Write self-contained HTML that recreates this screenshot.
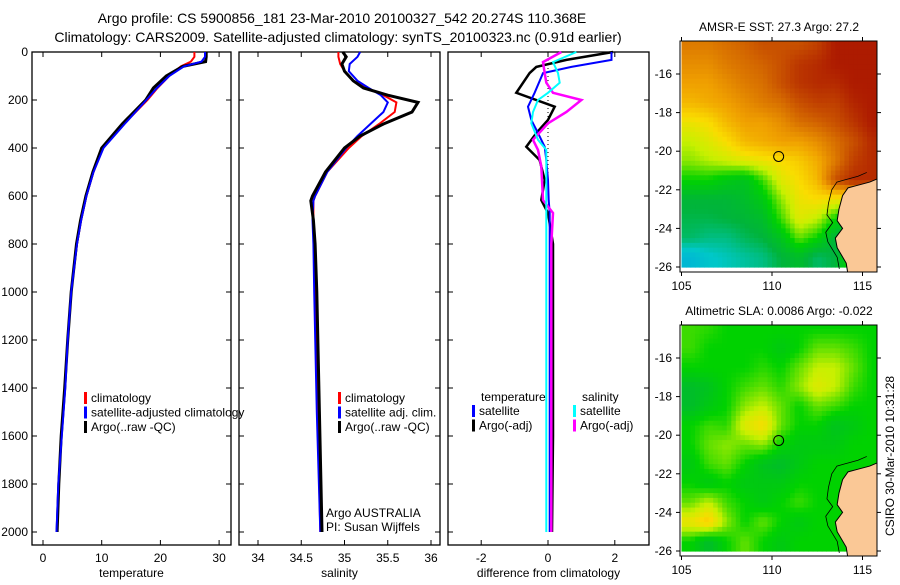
<!DOCTYPE html>
<html><head><meta charset="utf-8"><style>
body{margin:0;background:#fff}
svg{font-family:"Liberation Sans",sans-serif}
</style></head><body>
<svg id="fig" width="900" height="580" viewBox="0 0 900 580" xmlns="http://www.w3.org/2000/svg">
<text x="342" y="23" font-size="14" text-anchor="middle">Argo profile: CS 5900856_181 23-Mar-2010 20100327_542 20.274S 110.368E</text>
<text x="338" y="42" font-size="14" text-anchor="middle">Climatology: CARS2009. Satellite-adjusted climatology: synTS_20100323.nc (0.91d earlier)</text>
<g id="g"></g>
</svg>
<script>
// ---- data ----
const tDepth=[0,20,40,60,100,150,200,300,400,500,600,700,800,1000,1200,1400,1600,1800,2000];
const tClim=[25.8,25.8,25.2,23.5,21.5,19.5,17.8,13.8,10.2,8.6,7.4,6.5,5.8,4.8,4.2,3.7,3.1,2.7,2.4];
const tSat=[27.6,27.6,27.0,24.0,21.5,19.4,17.6,13.9,10.3,8.6,7.4,6.5,5.8,4.8,4.2,3.8,3.2,2.6,2.3];
const tArgo=[27.8,27.8,27.7,23.8,21.0,18.8,17.5,13.5,10.0,8.5,7.3,6.4,5.7,4.8,4.2,3.7,3.1,2.7,2.4];
const sDepth=[0,20,50,80,120,150,180,210,250,300,350,400,500,600,620,700,800,1000,1500,2000];
const sClim=[34.93,34.93,34.95,35.0,35.1,35.25,35.45,35.6,35.58,35.4,35.2,35.05,34.8,34.66,34.64,34.64,34.65,34.66,34.69,34.72];
const sSat=[35.18,35.15,35.06,35.05,35.15,35.28,35.42,35.5,35.45,35.3,35.15,35.02,34.8,34.66,34.64,34.63,34.64,34.65,34.68,34.72];
const sArgo=[34.98,35.02,34.97,35.0,35.1,35.22,35.5,35.85,35.78,35.45,35.18,35.0,34.78,34.63,34.61,34.64,34.66,34.68,34.71,34.74];
const dTDepth=[0,33,62,88,170,228,283,338,395,450,533,617,671,800,1200,1600,2000];
const dTArgo=[1.95,0.55,-0.35,-0.55,-0.95,0.2,0,-0.35,-0.65,-0.25,-0.1,-0.2,0,0.15,0.15,0.15,0.12];
const dTSat=[1.9,1.9,0.7,-0.15,-0.4,-0.6,-0.5,-0.3,-0.1,-0.05,0,0.02,0.05,0.05,0.05,0.05,0.05];
const dSDepth=[0,42,88,128,170,200,250,297,366,408,477,617,671,800,1200,1600,2000];
const dSSat=[0.85,0.15,0.3,0.35,0.0,-0.3,-0.45,-0.5,-0.3,-0.05,-0.05,-0.05,-0.05,-0.05,-0.05,-0.05,-0.05];
const dSArgo=[0.4,-0.15,-0.1,-0.05,0.15,1.0,0.55,0.0,-0.45,-0.3,-0.2,-0.15,0.15,0.1,0.1,0.1,0.1];
const mapLons=[105.5,106.5,107.5,108.5,109.5,110.5,111.5,112.5,113.5,114.5,115.5];
const mapLats=[-14.5,-15.5,-16.5,-17.5,-18.5,-19.5,-20.5,-21.5,-22.5,-23.5,-24.5,-25.5];
const sstGrid=[
[.78,.78,.8,.82,.85,.85,.85,.88,.95,.95,.95],
[.75,.75,.78,.8,.82,.85,.9,.92,.95,.95,.95],
[.72,.72,.75,.78,.8,.85,.9,.92,.92,.95,.95],
[.68,.7,.72,.75,.78,.8,.85,.88,.88,.93,.95],
[.6,.62,.68,.72,.72,.75,.8,.82,.85,.9,.95],
[.55,.58,.62,.68,.7,.72,.72,.75,.8,.85,.92],
[.52,.54,.56,.58,.6,.62,.65,.7,.78,.88,.92],
[.45,.45,.42,.4,.48,.58,.62,.68,.85,.92,.92],
[.36,.36,.36,.38,.42,.52,.6,.62,.6,.6,.6],
[.34,.34,.35,.36,.38,.48,.58,.55,.45,.4,.4],
[.32,.3,.3,.33,.35,.4,.5,.45,.35,.35,.35],
[.2,.24,.26,.28,.3,.35,.38,.32,.35,.5,.5]];
const slaGrid=[
[.48,.47,.45,.45,.45,.45,.45,.45,.45,.45,.45],
[.48,.45,.45,.45,.45,.42,.45,.5,.5,.48,.45],
[.45,.45,.45,.45,.47,.45,.5,.55,.55,.5,.45],
[.38,.4,.45,.48,.5,.47,.52,.58,.55,.48,.45],
[.38,.42,.45,.52,.55,.5,.45,.5,.48,.45,.45],
[.45,.48,.47,.58,.62,.5,.45,.45,.4,.42,.45],
[.45,.5,.52,.5,.52,.45,.42,.42,.42,.45,.45],
[.42,.48,.5,.45,.4,.38,.42,.45,.45,.45,.45],
[.45,.42,.45,.42,.42,.42,.45,.45,.45,.45,.45],
[.5,.55,.48,.45,.42,.45,.48,.45,.45,.45,.45],
[.6,.65,.52,.45,.5,.45,.42,.45,.45,.45,.45],
[.45,.38,.45,.5,.45,.42,.45,.45,.45,.45,.45]];
const coastLon=[115.9,115.4,114.6,114.2,113.9,113.7,113.6,113.9,113.5,113.6,114.1,114.2,115.9];
const coastLat=[-21.4,-21.6,-21.8,-21.9,-22.3,-23.0,-23.6,-24.0,-24.5,-25.0,-25.8,-26.4,-26.4];
const argoLon=110.368, argoLat=-20.274;
// ---- drawing ----
const NS="http://www.w3.org/2000/svg", G=document.getElementById('g');
function mk(t,a,p){const e=document.createElementNS(NS,t);for(const k in a)e.setAttribute(k,a[k]);(p||G).appendChild(e);return e;}
function tx(x,y,s,a,sz){const e=mk('text',{x:x,y:y,'font-size':sz||12,'text-anchor':a||'middle'});e.textContent=s;return e;}
const Y0=52,YB=545,py=d=>Y0+d*0.24;
function panel(name,x0,x1,xs,xticks,xlabs,label,showY){
  const b=mk('rect',{x:x0,y:Y0,width:x1-x0,height:YB-Y0,fill:'none',stroke:'#000','stroke-width':1.3});
  
  xticks.forEach((v,i)=>{const X=xs(v);mk('line',{x1:X,x2:X,y1:YB,y2:YB-5,stroke:'#000'});mk('line',{x1:X,x2:X,y1:Y0,y2:Y0+5,stroke:'#000'});
    const t=tx(X,562,xlabs[i]);});
  for(let d=0;d<=2000;d+=200){const Y=py(d);mk('line',{x1:x0,x2:x0+5,y1:Y,y2:Y,stroke:'#000'});mk('line',{x1:x1,x2:x1-5,y1:Y,y2:Y,stroke:'#000'});
    if(showY){const t=tx(x0-4,Y+4,String(d),'end');}}
  const l=tx((x0+x1)/2,577,label);
}
function line(name,xs,ds,vs,col,w,dash){
  const pts=ds.map((d,i)=>xs(vs[i]).toFixed(1)+','+py(d).toFixed(1)).join(' ');
  const e=mk('polyline',{points:pts,fill:'none',stroke:col,'stroke-width':w});
  if(dash)e.setAttribute('stroke-dasharray',dash);
  
}
function legend(name,x,y,items){items.forEach((it,i)=>{const Y=y+i*14.5;
  const m=mk('rect',{x:x,y:Y-10,width:3,height:12,fill:it[1]});
  const t=tx(x+7,Y,it[0],'start');});}
// panel 1 temperature
const xT=v=>43+v*5.87;
panel('temperature-panel',32,231,xT,[0,10,20,30],['0','10','20','30'],'temperature',true);
line('temp-climatology',xT,tDepth,tClim,'#f00',2);
line('temp-argo',xT,tDepth,tArgo,'#000',3);
line('temp-satellite-adjusted',xT,tDepth,tSat,'#00f',2);
legend('temp-legend',84,402,[['climatology','#f00'],['satellite-adjusted climatology','#00f'],['Argo(..raw -QC)','#000']]);
// panel 2 salinity
const xS=v=>258+(v-34)*86.5;
panel('salinity-panel',239,440,xS,[34,34.5,35,35.5,36],['34','34.5','35','35.5','36'],'salinity',false);
line('sal-climatology',xS,sDepth,sClim,'#f00',2);
line('sal-satellite-adj',xS,sDepth,sSat,'#00f',2);
line('sal-argo',xS,sDepth,sArgo,'#000',3);
legend('sal-legend',338,402,[['climatology','#f00'],['satellite adj. clim.','#00f'],['Argo(..raw -QC)','#000']]);
let t1=tx(326,517,'Argo AUSTRALIA','start');
let t2=tx(326,531,'PI: Susan Wijffels','start');
// panel 3 differences
const xD=v=>548+v*33.4;
panel('difference-panel',448,649,xD,[-2,0,2],['-2','0','2'],'difference from climatology',false);
mk('line',{x1:xD(0),x2:xD(0),y1:Y0,y2:py(600),stroke:'#000','stroke-dasharray':'1,3'});
line('diff-temp-argo',xD,dTDepth,dTArgo,'#000',2.5);
line('diff-temp-satellite',xD,dTDepth,dTSat,'#00f',2);
line('diff-sal-argo',xD,dSDepth,dSArgo,'#f0f',2.5,'');
line('diff-sal-satellite',xD,dSDepth,dSSat,'#0ff',2);
let h1=tx(481,401,'temperature','start');
let h2=tx(582,401,'salinity','start');
legend('diff-temp-legend',472,415,[['satellite','#00f'],['Argo(-adj)','#000']]);
legend('diff-sal-legend',573,415,[['satellite','#0ff'],['Argo(-adj)','#f0f']]);
// maps
const stops=[[0,[0,120,255]],[0.25,[0,200,200]],[0.35,[0,180,60]],[0.45,[0,210,0]],[0.55,[200,240,0]],[0.62,[250,220,0]],[0.72,[240,160,0]],[0.85,[200,80,0]],[1,[160,0,0]]];
function cmap(v){for(let i=1;i<stops.length;i++){if(v<=stops[i][0]){const a=stops[i-1],b=stops[i],f=(v-a[0])/(b[0]-a[0]);return 'rgb('+a[1].map((c,k)=>Math.round(c+(b[1][k]-c)*f)).join(',')+')';}}return 'rgb(160,0,0)';}
function sample(grid,fr,fc){
  const r=Math.max(0,Math.min(grid.length-1.001,fr)),c=Math.max(0,Math.min(grid[0].length-1.001,fc));
  const r0=Math.floor(r),c0=Math.floor(c),a=r-r0,b=c-c0;
  return grid[r0][c0]*(1-a)*(1-b)+grid[r0+1][c0]*a*(1-b)+grid[r0][c0+1]*(1-a)*b+grid[r0+1][c0+1]*a*b;
}
function map(name,top,title,grid){
  const mx=l=>681.5+(l-105)*18.1, my=l=>top+33+(-16-l)*19.3;
  const X0=680,X1=877,YT=top,YBt=top+231;
  const cp=mk('clipPath',{id:'c'+name});mk('rect',{x:X0,y:YT,width:X1-X0,height:YBt-YT},cp);
  const g=mk('g',{'clip-path':'url(#c'+name+')'});
  const S=4,n=grid.length,m=grid[0].length;
  for(let i=0;i<n*S;i++)for(let j=0;j<m*S;j++){
    const fr=(i+0.5)/S-0.5, fc=(j+0.5)/S-0.5;
    const lo=mapLons[0]-0.5+(j/S), la=mapLats[0]+0.5-(i/S);
    mk('rect',{x:mx(lo).toFixed(2),y:my(la).toFixed(2),width:(18.1/S+0.6).toFixed(2),height:(19.3/S+0.6).toFixed(2),fill:cmap(sample(grid,fr,fc))},g);
  }
  const land=mk('polygon',{points:coastLon.map((lo,i)=>mx(lo)+','+my(coastLat[i])).join(' '),fill:'#fac896',stroke:'#000','stroke-width':1},g);
  
  mk('polyline',{points:coastLon.slice(0,-1).map((lo,i)=>(mx(lo)-12+i*0.3)+','+my(coastLat[i]+0.3)).join(' '),fill:'none',stroke:'#000','stroke-width':0.8},g);
  const b=mk('rect',{x:X0,y:YT,width:X1-X0,height:YBt-YT,fill:'none',stroke:'#000'});
  const c=mk('circle',{cx:mx(argoLon),cy:my(argoLat),r:5,fill:'none',stroke:'#000'});
  [105,110,115].forEach(l=>{const X=mx(l);mk('line',{x1:X,x2:X,y1:YT,y2:YT-4,stroke:'#000'});mk('line',{x1:X,x2:X,y1:YBt,y2:YBt+4,stroke:'#000'});
    const t=tx(X,YBt+18,String(l));});
  for(let l=-16;l>=-26;l-=2){const Y=my(l);mk('line',{x1:X0,x2:X0-4,y1:Y,y2:Y,stroke:'#000'});mk('line',{x1:X1,x2:X1+4,y1:Y,y2:Y,stroke:'#000'});
    const t=tx(X0-8,Y+4,String(l),'end');}
  const tt=tx(779,top-10,title);
}
map('sst-map',41,'AMSR-E SST: 27.3 Argo: 27.2',sstGrid);
map('sla-map',325,'Altimetric SLA: 0.0086 Argo: -0.022',slaGrid);
const cs=tx(0,0,'CSIRO 30-Mar-2010 10:31:28');cs.setAttribute('transform','translate(894,456) rotate(-90)');

</script>
</body></html>
